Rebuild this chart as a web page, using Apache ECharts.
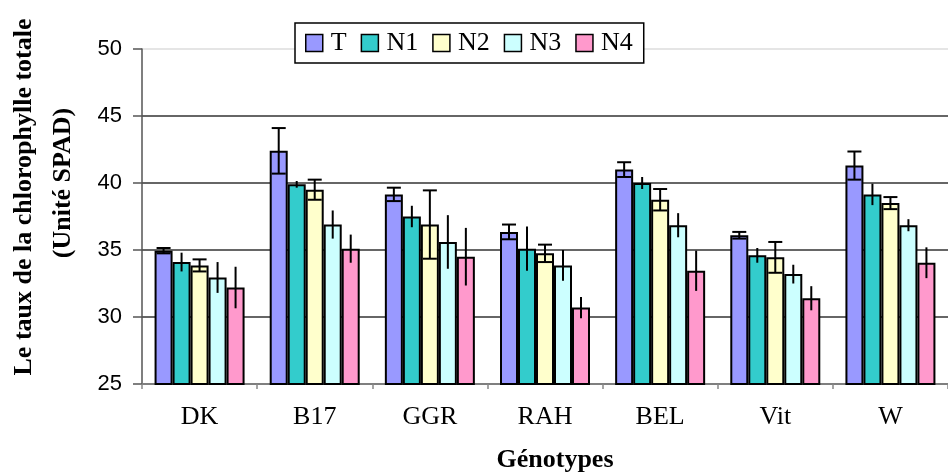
<!DOCTYPE html>
<html>
<head>
<meta charset="utf-8">
<script src="https://cdn.jsdelivr.net/npm/echarts@6/dist/echarts.min.js"></script>
<style>
html,body{margin:0;padding:0;background:#fff;}
#c{width:948px;height:472px;}
</style>
</head>
<body>
<div id="c"></div>
<script>
var categories = ['DK', 'B17', 'GGR', 'RAH', 'BEL', 'Vit', 'W'];
var seriesNames = ['T', 'N1', 'N2', 'N3', 'N4'];
var T  = [34.95, 42.4, 39.15, 36.35, 41.0, 36.1, 41.3];
var N1 = [34.1, 39.9, 37.5, 35.1, 40.0, 34.6, 39.15];
var N2 = [33.85, 39.5, 36.9, 34.75, 38.75, 34.45, 38.5];
var N3 = [32.95, 36.9, 35.6, 33.85, 36.85, 33.2, 36.85];
var N4 = [32.2, 35.1, 34.5, 30.7, 33.45, 31.4, 34.05];
var errT  = [0.2, 1.7, 0.5, 0.55, 0.55, 0.25, 1.05];
var errN1 = [0.7, 0.25, 0.8, 1.65, 0.45, 0.55, 0.8];
var errN2 = [0.45, 0.75, 2.55, 0.65, 0.8, 1.15, 0.45];
var errN3 = [1.15, 1.05, 2.0, 1.15, 0.9, 0.7, 0.45];
var errN4 = [1.55, 1.05, 2.15, 0.8, 1.5, 0.9, 1.15];
var yTicks = [25, 30, 35, 40, 45, 50];

var values = [T, N1, N2, N3, N4];
var errors = [errT, errN1, errN2, errN3, errN4];
var colors = ['#9999FF', '#33CCCC', '#FFFFCC', '#CCFFFF', '#FF99CC'];
var caps = [true, false, true, false, false];
var BAR_W = 18;

var chart = echarts.init(document.getElementById('c'));
var series = [];
values.forEach(function (vals, i) {
  series.push({
    name: seriesNames[i],
    type: 'bar',
    data: vals,
    barWidth: BAR_W,
    barGap: '0%',
    itemStyle: { color: colors[i], borderColor: '#000', borderWidth: 2 },
    z: 2
  });
});
values.forEach(function (vals, i) {
  var data = vals.map(function (v, k) { return [k, v, errors[i][k]]; });
  series.push({
    type: 'custom',
    name: seriesNames[i] + '_err',
    data: data,
    z: 5,
    silent: true,
    encode: { x: 0, y: 1 },
    renderItem: function (params, api) {
      var cat = api.value(0), v = api.value(1), e = api.value(2);
      var top = api.coord([cat, v + e]);
      var bot = api.coord([cat, v - e]);
      var x = top[0] + (i - 2) * BAR_W;
      var children = [{
        type: 'line',
        shape: { x1: x, y1: top[1], x2: x, y2: bot[1] },
        style: { stroke: '#000', lineWidth: 2 }
      }];
      if (caps[i]) {
        children.push({ type: 'line', shape: { x1: x - 7, y1: top[1], x2: x + 7, y2: top[1] }, style: { stroke: '#000', lineWidth: 2 } });
        children.push({ type: 'line', shape: { x1: x - 7, y1: bot[1], x2: x + 7, y2: bot[1] }, style: { stroke: '#000', lineWidth: 2 } });
      }
      return { type: 'group', children: children };
    }
  });
});

chart.setOption({
  animation: false,
  backgroundColor: '#fff',
  grid: { left: 142, top: 49, width: 812, height: 335, containLabel: false },
  legend: {
    data: seriesNames.map(function (n, i) {
      return { name: n, icon: 'rect', itemStyle: { color: colors[i], borderColor: '#000', borderWidth: 1.5 } };
    }),
    left: 295, top: 23,
    itemWidth: 17, itemHeight: 17, itemGap: 14,
    padding: [7, 11, 7, 10],
    backgroundColor: '#fff',
    borderColor: '#000', borderWidth: 1.5,
    textStyle: { fontFamily: 'Liberation Serif', fontSize: 26, color: '#000', padding: [0, 0, 0, 3] },
    z: 10
  },
  xAxis: {
    type: 'category',
    data: categories,
    axisLine: { lineStyle: { color: '#888', width: 1.5 } },
    axisTick: { show: true, length: 5, lineStyle: { color: '#888', width: 1.5 } },
    axisLabel: { fontFamily: 'Liberation Serif', fontSize: 26, color: '#000', margin: 20 },
    splitLine: { show: false }
  },
  yAxis: {
    type: 'value',
    min: yTicks[0], max: yTicks[yTicks.length - 1], interval: 5,
    axisLine: { show: true, lineStyle: { color: '#555', width: 1.5 } },
    axisTick: { show: true, length: 9, lineStyle: { color: '#555', width: 1.5 } },
    axisLabel: { fontFamily: 'Liberation Sans', fontSize: 22, color: '#000', margin: 20 },
    splitLine: { show: true, lineStyle: { color: ['#333', '#333', '#333', '#333', '#333', '#ddd'], width: 1.5 } }
  },
  graphic: [
    { type: 'text', x: 24, y: 197, rotation: Math.PI / 2,
      style: { text: 'Le taux de la chlorophylle totale', font: 'bold 26px "Liberation Serif"', fill: '#000', align: 'center', verticalAlign: 'middle' } },
    { type: 'text', x: 63, y: 183, rotation: Math.PI / 2,
      style: { text: '(Unité SPAD)', font: 'bold 26px "Liberation Serif"', fill: '#000', align: 'center', verticalAlign: 'middle' } },
    { type: 'text', x: 555, y: 460,
      style: { text: 'Génotypes', font: 'bold 26px "Liberation Serif"', fill: '#000', align: 'center', verticalAlign: 'middle' } }
  ],
  series: series
});
</script>
</body>
</html>
